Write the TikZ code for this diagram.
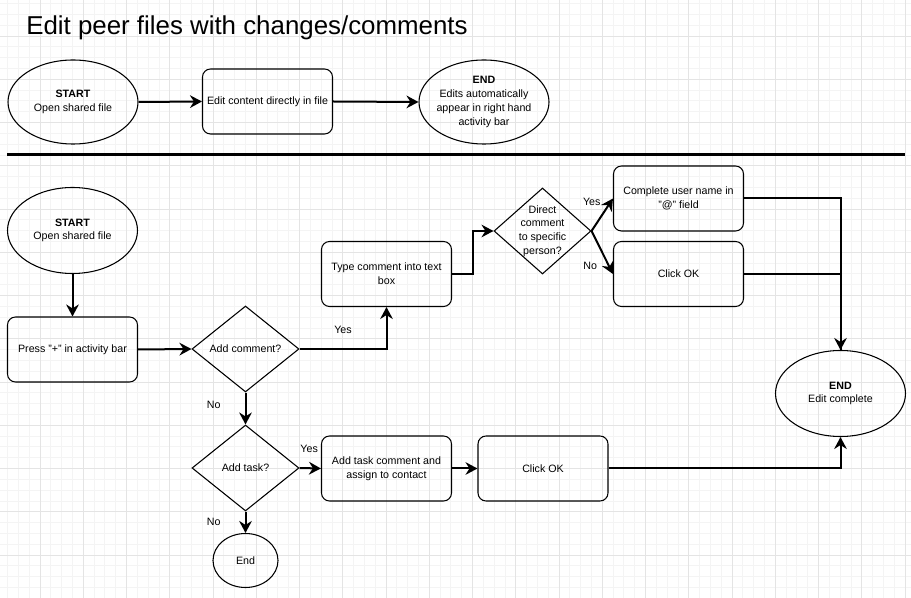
\documentclass[tikz,border=0pt]{standalone}
\usepackage{fontspec}
\setmainfont{Liberation Sans}
\usetikzlibrary{shapes.geometric,arrows.meta}
\definecolor{gridminor}{HTML}{F4F4F4}
\definecolor{gridmajor}{HTML}{E4E4E4}
\tikzset{
	x=0.75pt, y=-0.75pt, % one unit is one pixel of the sketch, y runs down
	>={Stealth[length=9pt,width=9.5pt,inset=3pt]}, % filled heads
	flow/.style={->, line width=1.5pt}, % the connectors
	link/.style={line width=1.5pt}, % connector that joins another one
	terminal/.style={ellipse, draw, line width=0.8pt, minimum width=97.5pt, minimum height=64.5pt, inner sep=-10pt, align=center, font=\fontsize{8}{10.3}\selectfont},
	stepbox/.style={rectangle, rounded corners=6pt, draw, line width=0.8pt, minimum width=97.5pt, minimum height=48.75pt, align=center, font=\fontsize{8}{10.3}\selectfont},
	decision/.style={diamond, draw, line width=0.8pt, minimum width=80.25pt, minimum height=64.5pt, inner sep=-10pt, align=center, font=\fontsize{8}{10.3}\selectfont},
	answer/.style={inner sep=1pt, font=\fontsize{8}{10.3}\selectfont}, % Yes / No
}

\begin{document}
\begin{tikzpicture}
	\useasboundingbox (0,0) rectangle (911,598);
	% background grid
	\foreach \i in {0,...,83} \draw[gridminor, line width=0.6pt] ({7.56+\i*10.8125},0) -- ++(0,598);
	\foreach \i in {0,...,54} \draw[gridminor, line width=0.6pt] (0,{3.56+\i*10.8125}) -- ++(911,0);
	\foreach \i in {0,...,20} \draw[gridmajor, line width=0.6pt] ({40+\i*43.25},0) -- ++(0,598);
	\foreach \i in {0,...,12} \draw[gridmajor, line width=0.6pt] (0,{36+\i*43.25}) -- ++(911,0);

	\node[anchor=base west, inner sep=0pt, font=\fontsize{19.4}{23}\selectfont] (title) at (26,35) {Edit peer files with changes/comments};

	% editing straight in the file
	\node[terminal, minimum height=63pt] (start1) at (73,102) {\textbf{START}\\Open shared file};
	\node[stepbox] (edit1) at (267.5,101.5) {Edit content directly in file};
	\node[terminal, minimum height=63pt] (end1) at (484,102) {\textbf{END}\\Edits automatically\\appear in right hand\\activity bar};
	\draw[flow] (start1.east) -- (edit1.west);
	\draw[flow] (edit1.east) -- (end1.west);

	\draw[line width=2.25pt] (7,155) -- (905,155);

	% editing with comments and tasks
	\node[terminal] (start2) at (72.5,230.5) {\textbf{START}\\Open shared file};
	\node[stepbox] (press) at (72.5,349.5) {Press "+" in activity bar};
	\node[decision] (addcmt) at (245.5,349) {Add comment?};
	\node[stepbox] (typecmt) at (386.5,274) {Type comment into text\\box};
	\node[decision, minimum width=72.75pt] (direct) at (542.5,231) {Direct\\comment\\to specific\\person?};
	\node[stepbox] (complete) at (678.5,198.5) {Complete user name in\\"@" field};
	\node[stepbox] (clickok1) at (678.5,274) {Click OK};
	\node[terminal] (endc) at (840.5,393.5) {\textbf{END}\\Edit complete};
	\node[decision] (addtask) at (245.5,468) {Add task?};
	\node[stepbox] (addtaskc) at (386.5,468.5) {Add task comment and\\assign to contact};
	\node[stepbox] (clickok2) at (543,468.5) {Click OK};
	\node[ellipse, draw, line width=0.8pt, minimum width=48.75pt, minimum height=40.5pt, inner sep=0pt, font=\fontsize{8}{10.3}\selectfont] (endsmall) at (245.5,560.5) {End};

	\draw[flow] (start2) -- (press);
	\draw[flow] (press.east) -- (addcmt.west);
	\draw[flow] (addcmt.east) -| node[answer, pos=0.25, above=10pt] {Yes} (typecmt.south);
	\draw[flow] (addcmt.south) -- node[answer, pos=0.4, left=17pt] {No} (addtask.north);
	\draw[flow] (typecmt.east) -- ++(21,0) |- (direct.west);
	\draw[flow] (direct.east) -- node[answer, pos=0.9, left=6pt] {Yes} (complete.west);
	\draw[flow] (direct.east) -- node[answer, pos=0.8, left=7pt] {No} (clickok1.west);
	\draw[flow] (complete.east) -| (endc.north);
	\draw[link] (clickok1.east) -| (endc.north);
	\draw[flow] (addtask.east) -- node[answer, pos=0.45, above=10pt] {Yes} (addtaskc.west);
	\draw[flow] (addtaskc.east) -- (clickok2.west);
	\draw[flow] (clickok2.east) -| (endc.south);
	\draw[flow] (addtask.south) -- node[answer, pos=0.5, left=17pt] {No} (endsmall.north);
\end{tikzpicture}
\end{document}
